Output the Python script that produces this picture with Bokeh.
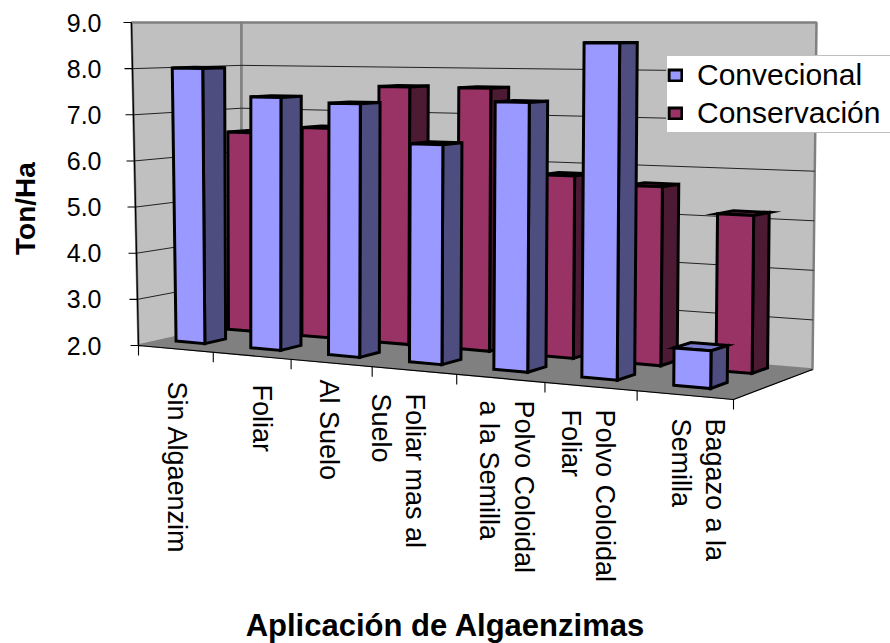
import numpy as np
from bokeh.core.properties import value
from bokeh.embed import file_html
from bokeh.models import FixedTicker, Legend, LegendItem, LinearAxis, NumeralTickFormatter, Range1d
from bokeh.plotting import figure
from bokeh.resources import INLINE

# ---- data ----
categories = ["Sin Algaenzim", "Foliar", "Al Suelo", "Foliar mas  al Suelo", "Polvo Coloidal a la Semilla",
              "Polvo Coloidal Foliar", "Bagazo a  la Semilla"]
convencional = [8.0, 7.4, 7.3, 6.5, 7.4, 8.6, 2.72]
conservacion = [6.5, 6.65, 7.6, 7.6, 5.8, 5.65, 5.15]
y_ticks = [2, 3, 4, 5, 6, 7, 8, 9]
label_lines = [["Sin Algaenzim"], ["Foliar"], ["Al Suelo"], ["Foliar mas  al", "Suelo"],
               ["Polvo Coloidal", "a la Semilla"], ["Polvo Coloidal", "Foliar"], ["Bagazo a  la", "Semilla"]]

# ---- layout: page-pixel frame, and the perspective of the box ----
W, H = 890, 643
AXIS_X = 123
VMIN, VMAX = 2.0, 9.0
TOP_Y = 22.0
corners_floor = [(138, 345), (733, 399), (812, 369), (241, 322)]  # FL FR BR BL
lean_x, lean_d = [138, 241, 812], [-7, 0, 4]
ROW_W = [(0.23, 0.43), (0.74, 0.94)]
BAR_U = (0.175, 0.565)
label_x = [[176], [261], [328], [414, 380], [523, 488], [604, 570], [714, 680]]
label_top_y = [381, 384, 379, 393, 400, 409, 418]


def homography(pts):
    src = [(0, 0), (1, 0), (1, 1), (0, 1)]
    A, b = [], []
    for (u, w), (x, y) in zip(src, pts):
        A.append([u, w, 1, 0, 0, 0, -u * x, -w * x]); b.append(x)
        A.append([0, 0, 0, u, w, 1, -u * y, -w * y]); b.append(y)
    return np.append(np.linalg.solve(np.array(A, float), np.array(b, float)), 1).reshape(3, 3)


HG = homography(corners_floor)


def proj(u, w, v):
    q = HG @ np.array([u, w, 1.0])
    fx, fy = q[0] / q[2], q[1] / q[2]
    t = (v - VMIN) / (VMAX - VMIN)
    return fx + t * np.interp(fx, lean_x, lean_d), fy + (TOP_Y - fy) * t


def poly(*pts):
    return [p[0] for p in pts], [p[1] for p in pts]


def bar_faces(i, v, row):
    u0, u1 = (i + BAR_U[0]) / 7, (i + BAR_U[1]) / 7
    w0, w1 = ROW_W[row]
    a, b = proj(u0, w0, VMIN), proj(u1, w0, VMIN)
    c, d = proj(u1, w1, VMIN), proj(u0, w0, v)
    e, f = proj(u1, w0, v), proj(u1, w1, v)
    g = proj(u0, w1, v)
    return poly(a, b, e, d), poly(b, c, f, e), poly(d, e, f, g)


p = figure(width=W, height=H, output_backend="svg", toolbar_location=None,
           x_range=Range1d(0, W), y_range=Range1d(H, 0),
           min_border_left=0, min_border_right=0, min_border_top=0, min_border_bottom=0,
           x_axis_type=None, y_axis_type=None, outline_line_color=None)
p.grid.visible = False
p.background_fill_color = "white"
p.border_fill_color = "white"

# value axis: real ticks and labels through its own scale
unit_left = (345 - TOP_Y) / (VMAX - VMIN)
p.extra_y_ranges["val"] = Range1d(VMAX - (H - TOP_Y) / unit_left, VMAX + TOP_Y / unit_left)
yax = LinearAxis(y_range_name="val", ticker=FixedTicker(ticks=y_ticks), fixed_location=AXIS_X,
                 formatter=NumeralTickFormatter(format="0.0"), axis_line_color=None,
                 major_tick_line_color=None, minor_tick_line_color=None, major_tick_in=0, major_tick_out=0,
                 major_label_standoff=22, major_label_text_font="Liberation Sans",
                 major_label_text_font_size="25px", major_label_text_color="black")
p.add_layout(yax, "left")

# walls and floor
fl0, fr0, br0, bl0 = proj(0, 0, VMIN), proj(1, 0, VMIN), proj(1, 1, VMIN), proj(0, 1, VMIN)
fl1, br1, bl1 = proj(0, 0, VMAX), proj(1, 1, VMAX), proj(0, 1, VMAX)
wx, wy = zip(poly(fl0, fl1, bl1, bl0), poly(bl0, bl1, br1, br0))
p.patches(list(wx), list(wy), fill_color="#C0C0C0", line_color="#808080", line_width=2.5)
fx, fy = poly(fl0, fr0, br0, bl0)
p.patch(fx, fy, fill_color="#808080", line_color="#808080", line_width=1)

# gridlines on the two walls
gx, gy = [], []
for v in y_ticks[1:-1]:
    a, b, c = proj(0, 0, v), proj(0, 1, v), proj(1, 1, v)
    gx.append([a[0], b[0], c[0]]); gy.append([a[1], b[1], c[1]])
p.multi_line(gx, gy, line_color="#222222", line_width=1)

# bars, back row first
styles = [("#993366", "#4D1A33", "#7A2952"), ("#9999FF", "#4D4D80", "#7A7ACC")]
legend_r = {}
for series, row, (cf, cs, ct), name in [(conservacion, 1, styles[0], "Conservación"),
                                        (convencional, 0, styles[1], "Convecional")]:
    faces = [bar_faces(i, v, row) for i, v in enumerate(series)]
    for k, col in [(2, ct), (1, cs), (0, cf)]:
        r = p.patches([f[k][0] for f in faces], [f[k][1] for f in faces], fill_color=col,
                      line_color="black", line_width=3, line_join="miter")
        if k == 0:
            legend_r[name] = r

# front-edge lines, category ticks and value ticks
ex, ey = poly(fl0, fr0, br0)
p.line(ex, ey, line_color="black", line_width=1.2)
lx, ly = poly(fl1, fl0)
p.line(lx, ly, line_color="black", line_width=1.2)
tx, ty = [], []
for i in range(8):
    a = proj(i / 7, 0, VMIN)
    tx.append([a[0], a[0]]); ty.append([a[1], a[1] + 10])
for v in y_ticks:
    a = proj(0, 0, v)
    tx.append([a[0] - 8, a[0]]); ty.append([a[1], a[1]])
p.multi_line(tx, ty, line_color="black", line_width=1.1)

# category labels
for lines, xs, y in zip(label_lines, label_x, label_top_y):
    p.text(xs, [y] * len(lines), text=lines, angle=-np.pi / 2, text_align="left", text_baseline="middle",
           text_font=value("Liberation Sans"), text_font_size="27px", text_color="black")

p.text([25], [208], text=["Ton/Ha"], angle=np.pi / 2, text_align="center", text_baseline="middle",
       text_font=value("Liberation Sans"), text_font_style="bold", text_font_size="28px", text_color="black")
p.text([445], [625], text=["Aplicación de Algaenzimas"], text_align="center", text_baseline="middle",
       text_font=value("Liberation Sans"), text_font_style="bold", text_font_size="31px", text_color="black")

legend = Legend(items=[LegendItem(label=n, renderers=[legend_r[n]]) for n in ("Convecional", "Conservación")],
                location=(666, H - 133), orientation="vertical", padding=0, margin=0, spacing=0,
                glyph_width=16, glyph_height=14, label_height=38, label_standoff=14, label_width=194,
                label_text_font="Liberation Sans", label_text_font_size="30px", label_text_color="black",
                border_line_color="#808080", border_line_width=1, background_fill_color="white", background_fill_alpha=1)
p.add_layout(legend, "center")

open("out.html", "w").write(file_html(p, INLINE))
